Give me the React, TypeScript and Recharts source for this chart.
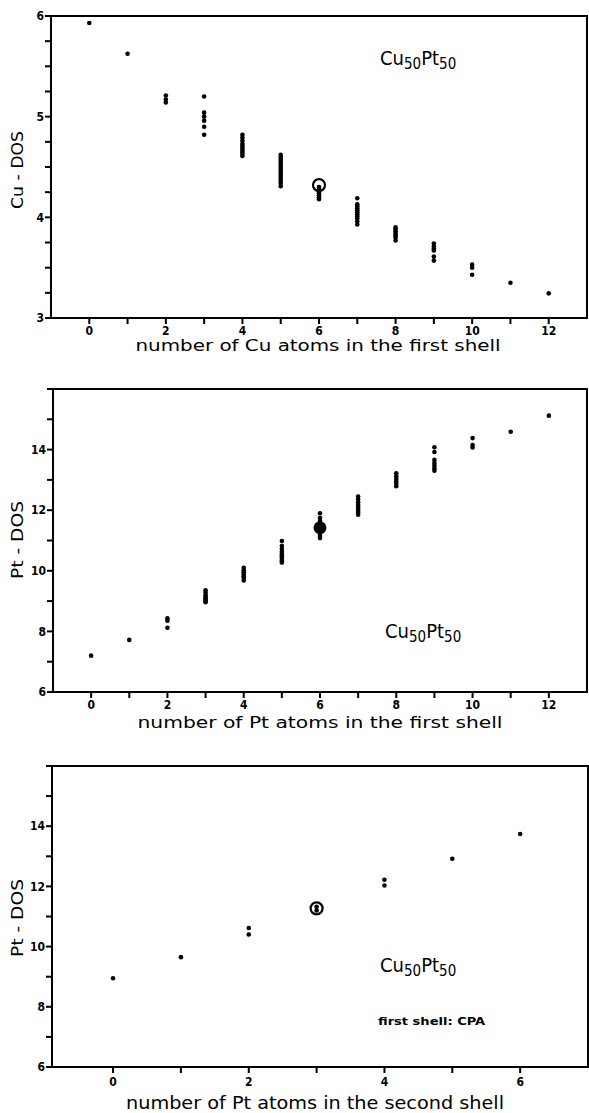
import { ScatterChart, Scatter, XAxis, YAxis, ReferenceArea } from 'recharts'

const FONT = "'DejaVu Sans Condensed', 'DejaVu Sans', sans-serif"

// panel 1: Cu-DOS vs number of Cu atoms in the first shell
const cuCounts = [0, 1, 2, 3, 4, 5, 6, 7, 8, 9, 10, 11, 12]
const cuDos = [
  [5.93],
  [5.625],
  [5.21, 5.17, 5.14],
  [5.2, 5.04, 5.0, 4.96, 4.9, 4.82],
  [4.82, 4.79, 4.76, 4.73, 4.71, 4.69, 4.67, 4.65, 4.63, 4.61],
  [4.62, 4.6, 4.58, 4.56, 4.54, 4.52, 4.5, 4.48, 4.46, 4.44, 4.42, 4.4, 4.38, 4.36, 4.34, 4.31],
  [4.3, 4.28, 4.26, 4.24, 4.22, 4.2, 4.18],
  [4.19, 4.13, 4.11, 4.09, 4.07, 4.05, 4.03, 4.01, 3.99, 3.96, 3.93],
  [3.9, 3.88, 3.86, 3.84, 3.82, 3.8, 3.77],
  [3.74, 3.71, 3.69, 3.67, 3.61, 3.57],
  [3.53, 3.5, 3.43],
  [3.35],
  [3.245],
]
const cuCpa = [{ n: 6, dos: 4.32 }]

// panel 2: Pt-DOS vs number of Pt atoms in the first shell
const ptCounts = [0, 1, 2, 3, 4, 5, 6, 7, 8, 9, 10, 11, 12]
const ptDos = [
  [7.2],
  [7.72],
  [8.43, 8.35, 8.12],
  [9.36, 9.28, 9.2, 9.14, 9.09, 9.04, 9.0, 8.96],
  [10.1, 10.02, 9.95, 9.88, 9.82, 9.76, 9.68],
  [10.98, 10.82, 10.72, 10.63, 10.55, 10.48, 10.41, 10.34, 10.27],
  [11.9, 11.75, 11.65, 11.55, 11.3, 11.22, 11.15, 11.08],
  [12.45, 12.35, 12.26, 12.18, 12.11, 12.05, 11.99, 11.92, 11.85],
  [13.22, 13.12, 13.03, 12.95, 12.87, 12.79],
  [14.08, 13.92, 13.66, 13.56, 13.47, 13.38, 13.3],
  [14.38, 14.15, 14.07],
  [14.59],
  [15.12],
]
const ptCpa = [{ n: 6, dos: 11.42 }]

// panel 3: Pt-DOS vs number of Pt atoms in the second shell (first shell: CPA)
const pt2Counts = [0, 1, 2, 3, 4, 5, 6]
const pt2Dos = [
  [8.95],
  [9.65],
  [10.62, 10.4],
  [11.32, 11.2],
  [12.22, 12.03],
  [12.92],
  [13.74],
]
const pt2Cpa = [{ n: 3, dos: 11.27 }]

const xTicks13 = [0, 1, 2, 3, 4, 5, 6, 7, 8, 9, 10, 11, 12]
const xTicks7 = [0, 1, 2, 3, 4, 5, 6]
const cuYTicks = [3, 3.25, 3.5, 3.75, 4, 4.25, 4.5, 4.75, 5, 5.25, 5.5, 5.75, 6]
const ptYTicks = [6, 7, 8, 9, 10, 11, 12, 13, 14, 15, 16]

const flatten = (counts: number[], values: number[][]) =>
  counts.flatMap((n, i) => values[i].map((dos) => ({ n, dos })))

// tick marks placed through the chart scales: x ticks sit on the bottom edge, y ticks on the left edge
const xTickMarks = (ticks: number[], yMin: number) => ticks.map((n) => ({ n, dos: yMin }))
const yTickMarks = (ticks: number[], xMin: number) => ticks.map((dos) => ({ n: xMin, dos }))

const dot = (props: any) => <circle cx={props.cx} cy={props.cy} r={2.3} fill="#000" />
const openRing = (props: any) => (
  <circle cx={props.cx} cy={props.cy} r={6} fill="none" stroke="#000" strokeWidth={2.2} />
)
const bigDot = (props: any) => <circle cx={props.cx} cy={props.cy} r={6.5} fill="#000" />
const xMark = (props: any) => <rect x={props.cx - 1} y={props.cy} width={2} height={6} fill="#000" />
const yMark = (props: any) => <rect x={props.cx - 6} y={props.cy - 1} width={6} height={2} fill="#000" />

const tickStyle = { fontSize: 12, fontWeight: 'bold', fill: '#000', fontFamily: FONT }
const evenLabel = (v: number) => (v % 2 === 0 && v < 16 ? String(v) : '')
const wholeLabel = (v: number) => (Number.isInteger(v) ? String(v) : '')

function formula(x: number, y: number) {
  return (
    <text x={x} y={y} fontFamily={FONT} fontSize={20} fill="#000">
      Cu
      <tspan fontSize={15} dy={4}>50</tspan>
      <tspan fontSize={20} dy={-4}>Pt</tspan>
      <tspan fontSize={15} dy={4}>50</tspan>
    </text>
  )
}

function xTitle(label: string, x: number, y: number, len: number, size: number) {
  return (
    <text x={x} y={y} textAnchor="middle" fontFamily={FONT} fontSize={size} textLength={len} lengthAdjust="spacingAndGlyphs" fill="#000">
      {label}
    </text>
  )
}

function yTitle(label: string, y: number) {
  return (
    <text
      x={17}
      y={y}
      textAnchor="middle"
      dominantBaseline="central"
      transform={`rotate(-90, 17, ${y})`}
      fontFamily={FONT}
      fontSize={16}
      textLength={78}
      lengthAdjust="spacingAndGlyphs"
      fill="#000"
    >
      {label}
    </text>
  )
}

export default function App() {
  return (
    <div style={{ position: 'absolute', left: 0, top: 0, width: 589, height: 1113 }}>
      <div style={{ position: 'absolute', left: 0, top: 0 }}>
        <ScatterChart width={589} height={360} margin={{ top: 16, right: 2, left: 0, bottom: 0 }}>
          <XAxis type="number" dataKey="n" domain={[-1, 13]} ticks={xTicks13} interval={0} height={42}
            tick={tickStyle} tickSize={6} tickMargin={2} tickLine={false} tickFormatter={evenLabel} stroke="#000" />
          <YAxis type="number" dataKey="dos" domain={[3, 6]} ticks={cuYTicks} interval={0} width={51}
            tick={tickStyle} tickSize={6} tickMargin={1} tickLine={false} tickFormatter={wholeLabel} stroke="#000" />
          <ReferenceArea x1={-1} x2={13} y1={3} y2={6} fill="none" stroke="#000" strokeWidth={2} ifOverflow="visible" />
          <Scatter data={xTickMarks(xTicks13, 3)} shape={xMark} isAnimationActive={false} />
          <Scatter data={yTickMarks(cuYTicks, -1)} shape={yMark} isAnimationActive={false} />
          <Scatter data={flatten(cuCounts, cuDos)} shape={dot} isAnimationActive={false} />
          <Scatter data={cuCpa} shape={openRing} isAnimationActive={false} />
          {xTitle('number of Cu atoms in the first shell', 318, 351, 365, 16)}
          {yTitle('Cu - DOS', 170)}
          {formula(380, 65)}
        </ScatterChart>
      </div>
      <div style={{ position: 'absolute', left: 0, top: 370 }}>
        <ScatterChart width={589} height={375} margin={{ top: 19, right: 2, left: 0, bottom: 0 }}>
          <XAxis type="number" dataKey="n" domain={[-1, 13]} ticks={xTicks13} interval={0} height={53}
            tick={tickStyle} tickSize={6} tickMargin={2} tickLine={false} tickFormatter={evenLabel} stroke="#000" />
          <YAxis type="number" dataKey="dos" domain={[6, 16]} ticks={ptYTicks} interval={0} width={53}
            tick={tickStyle} tickSize={6} tickMargin={1} tickLine={false} tickFormatter={evenLabel} stroke="#000" />
          <ReferenceArea x1={-1} x2={13} y1={6} y2={16} fill="none" stroke="#000" strokeWidth={2} ifOverflow="visible" />
          <Scatter data={xTickMarks(xTicks13, 6)} shape={xMark} isAnimationActive={false} />
          <Scatter data={yTickMarks(ptYTicks, -1)} shape={yMark} isAnimationActive={false} />
          <Scatter data={flatten(ptCounts, ptDos)} shape={dot} isAnimationActive={false} />
          <Scatter data={ptCpa} shape={bigDot} isAnimationActive={false} />
          {xTitle('number of Pt atoms in the first shell', 320, 358, 365, 16)}
          {yTitle('Pt - DOS', 170)}
          {formula(385, 268)}
        </ScatterChart>
      </div>
      <div style={{ position: 'absolute', left: 0, top: 750 }}>
        <ScatterChart width={589} height={363} margin={{ top: 16, right: 1, left: 0, bottom: 0 }}>
          <XAxis type="number" dataKey="n" domain={[-0.9, 7]} ticks={xTicks7} interval={0} height={46}
            tick={tickStyle} tickSize={6} tickMargin={4} tickLine={false} tickFormatter={evenLabel} stroke="#000" />
          <YAxis type="number" dataKey="dos" domain={[6, 16]} ticks={ptYTicks} interval={0} width={52}
            tick={tickStyle} tickSize={6} tickMargin={1} tickLine={false} tickFormatter={evenLabel} stroke="#000" />
          <ReferenceArea x1={-0.9} x2={7} y1={6} y2={16} fill="none" stroke="#000" strokeWidth={2} ifOverflow="visible" />
          <Scatter data={xTickMarks(xTicks7, 6)} shape={xMark} isAnimationActive={false} />
          <Scatter data={yTickMarks(ptYTicks, -0.9)} shape={yMark} isAnimationActive={false} />
          <Scatter data={flatten(pt2Counts, pt2Dos)} shape={dot} isAnimationActive={false} />
          <Scatter data={pt2Cpa} shape={openRing} isAnimationActive={false} />
          {xTitle('number of Pt atoms in the second shell', 315, 359, 378, 17)}
          {yTitle('Pt - DOS', 168)}
          {formula(380, 222)}
          <text x={378} y={275} fontFamily={FONT} fontSize={10} fontWeight="bold" textLength={107} lengthAdjust="spacingAndGlyphs" fill="#000">
            first shell: CPA
          </text>
        </ScatterChart>
      </div>
    </div>
  )
}
